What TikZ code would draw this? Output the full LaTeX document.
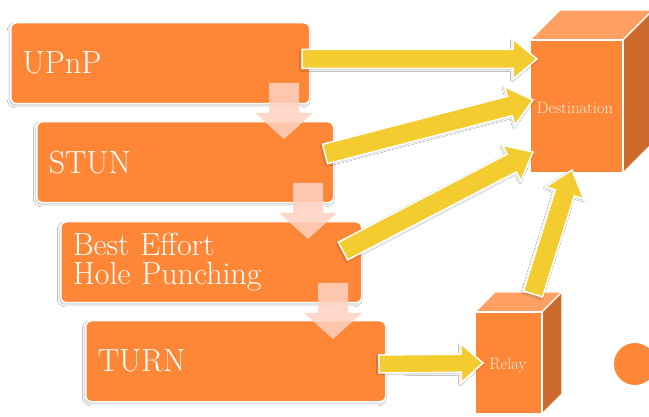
\documentclass[tikz,border=0pt]{standalone}
\usetikzlibrary{calc,shadows.blur}
\definecolor{boxorange}{RGB}{254,135,55}
\definecolor{toporange}{RGB}{255,160,98}
\definecolor{sideorange}{RGB}{204,107,43}
\definecolor{arrowyellow}{RGB}{243,205,47}
\definecolor{arrowpink}{RGB}{255,210,193}
\definecolor{cubetext}{RGB}{255,236,222}
\tikzset{
  stepbox/.style={rectangle, rounded corners=6pt, fill=boxorange, draw=white, line width=1.5pt,
    minimum height=81pt, text width=275pt, inner xsep=12pt, inner ysep=0pt, align=left,
    text=white, font=\fontsize{32}{29}\selectfont, anchor=north west,
    blur shadow={shadow xshift=-1.5pt, shadow yshift=-2pt, shadow blur radius=2pt, shadow opacity=22}},
  yarr/.style={fill=arrowyellow, draw=white, line width=1.5pt, line join=miter,
    blur shadow={shadow xshift=-1pt, shadow yshift=-1.5pt, shadow blur radius=1.5pt, shadow opacity=22}},
  parr/.style={fill=arrowpink, opacity=0.85},
  cubeface/.style={draw=white, line width=1.2pt, line join=round},
  cubelabel/.style={text=cubetext, font=\fontsize{16.5}{18}\selectfont, inner sep=0pt},
}
% block arrow: #1 name, #2 tail, #3 tip, #4 half shaft, #5 half head, #6 head length
\newcommand{\yblock}[6]{%
  \coordinate (#1-h) at ($(#3)!#6!(#2)$);
  \draw[yarr] ($(#2)!#4!90:(#3)$) -- ($(#1-h)!#4!90:(#3)$) -- ($(#1-h)!#5!90:(#3)$) -- (#3)
    -- ($(#1-h)!#5!-90:(#3)$) -- ($(#1-h)!#4!-90:(#3)$) -- ($(#2)!#4!-90:(#3)$) -- cycle;
}
% pink down arrow: #1 centre x, #2 top y
\newcommand{\pdown}[2]{%
  \fill[parr] (#1-15,#2) -- (#1+15,#2) -- (#1+15,#2+30) -- (#1+29,#2+30) -- (#1,#2+56)
    -- (#1-29,#2+30) -- (#1-15,#2+30) -- cycle;
}
\begin{document}
\begin{tikzpicture}[x=1pt,y=-1pt]
\useasboundingbox (0,0) rectangle (649,417);
\fill[white] (0,0) rectangle (649,417);

% step boxes
\node[stepbox, minimum width=299pt] (upnp) at (10,22) {UPnP};
\node[stepbox, minimum width=297pt, text width=273pt] (stun) at (36,121) {STUN};
\node[stepbox, minimum width=301pt, text width=277pt] (hole) at (60,221) {Best Effort\\Hole Punching};
\node[stepbox, minimum width=300pt, text width=276pt] (turn) at (85,320) {TURN};

% pink down arrows
\pdown{284}{83}
\pdown{308}{183}
\pdown{333}{283}

% Destination cube
\coordinate (d1) at (530,40); \coordinate (d2) at (623,40);
\coordinate (d3) at (623,173); \coordinate (d4) at (530,173);
\draw[cubeface, fill=toporange] (d1) -- ++(30,-30) -- ++(93,0) -- (d2) -- cycle;
\draw[cubeface, fill=sideorange] (d2) -- ++(30,-30) -- ++(0,133) -- (d3) -- cycle;
\draw[cubeface, fill=boxorange] (d1) rectangle (d3);
\node[cubelabel] (dest) at (575,108) {Destination};

% Relay cube
\coordinate (r1) at (475,312); \coordinate (r2) at (542,312);
\coordinate (r3) at (542,414); \coordinate (r4) at (475,414);
\draw[cubeface, fill=toporange] (r1) -- ++(20,-20) -- ++(67,0) -- (r2) -- cycle;
\draw[cubeface, fill=sideorange] (r2) -- ++(20,-20) -- ++(0,102) -- (r3) -- cycle;
\draw[cubeface, fill=boxorange] (r1) rectangle (r3);
\node[cubelabel] (relay) at (508,365) {Relay};

% circle at right edge
\fill[boxorange] (635,364) circle (21);

% yellow connectors
\coordinate (a1t) at (302,59);  \coordinate (a1h) at (537,59);
\coordinate (a2t) at (325,154); \coordinate (a2h) at (533,100);
\coordinate (a3t) at (343,251); \coordinate (a3h) at (533,152);
\coordinate (a4t) at (379,364); \coordinate (a4h) at (483,363);
\coordinate (a5t) at (533,294); \coordinate (a5h) at (572,170);
\yblock{c1}{a1t}{a1h}{9.5pt}{20pt}{24pt}
\yblock{c2}{a2t}{a2h}{10pt}{20pt}{24pt}
\yblock{c3}{a3t}{a3h}{10pt}{20pt}{24pt}
\yblock{c4}{a4t}{a4h}{9pt}{19.5pt}{22pt}
\yblock{c5}{a5t}{a5h}{10pt}{20pt}{24pt}
\end{tikzpicture}
\end{document}
